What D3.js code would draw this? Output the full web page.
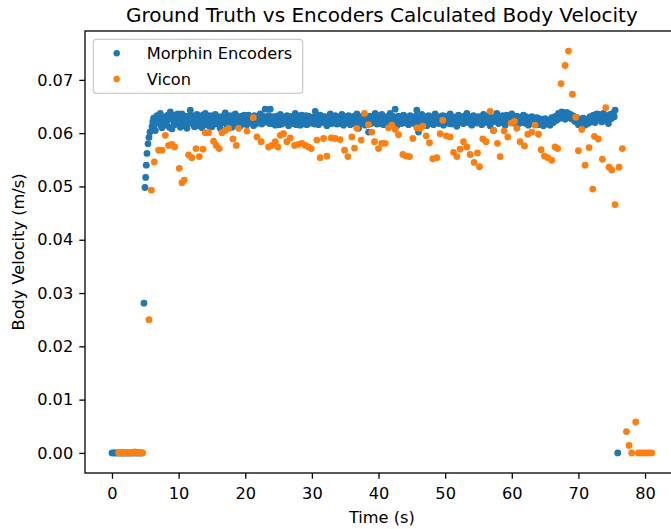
<!DOCTYPE html>
<html>
<head>
<meta charset="utf-8">
<script src="https://cdn.jsdelivr.net/npm/d3@7"></script>
<style>
  body { margin: 0; background: #ffffff; }
  svg { display: block; }
  text { font-family: "DejaVu Sans", sans-serif; fill: #000; }
</style>
</head>
<body>
<svg id="chart" width="671" height="529"></svg>
<script>
// Body velocity estimated from the wheel encoders (s, m/s)
const encoderTime = [
  0,0.25,0.5,0.75,1,1.25,1.5,1.75,2,2.25,2.5,2.75,3,3.25,3.5,3.75,4,4.25,4.5,
  4.8,4.95,5.05,5.15,5.25,5.4,5.55,5.7,
  6,6.125,6.25,6.375,6.5,6.625,6.75,6.875,
  7,7.125,7.25,7.375,7.5,7.625,7.75,7.875,
  8,8.125,8.25,8.375,8.5,8.625,8.75,8.875,
  9,9.125,9.25,9.375,9.5,9.625,9.75,9.875,
  10,10.125,10.25,10.375,10.5,10.625,10.75,10.875,
  11,11.125,11.25,11.375,11.5,11.625,11.75,11.875,
  12,12.125,12.25,12.375,12.5,12.625,12.75,12.875,
  13,13.125,13.25,13.375,13.5,13.625,13.75,13.875,
  14,14.125,14.25,14.375,14.5,14.625,14.75,14.875,
  15,15.125,15.25,15.375,15.5,15.625,15.75,15.875,
  16,16.125,16.25,16.375,16.5,16.625,16.75,16.875,
  17,17.125,17.25,17.375,17.5,17.625,17.75,17.875,
  18,18.125,18.25,18.375,18.5,18.625,18.75,18.875,
  19,19.125,19.25,19.375,19.5,19.625,19.75,19.875,
  20,20.125,20.25,20.375,20.5,20.625,20.75,20.875,
  21,21.125,21.25,21.375,21.5,21.625,21.75,21.875,
  22,22.125,22.25,22.375,22.5,22.625,22.75,22.875,
  23,23.125,23.25,23.375,23.5,23.625,23.75,23.875,
  24,24.125,24.25,24.375,24.5,24.625,24.75,24.875,
  25,25.125,25.25,25.375,25.5,25.625,25.75,25.875,
  26,26.125,26.25,26.375,26.5,26.625,26.75,26.875,
  27,27.125,27.25,27.375,27.5,27.625,27.75,27.875,
  28,28.125,28.25,28.375,28.5,28.625,28.75,28.875,
  29,29.125,29.25,29.375,29.5,29.625,29.75,29.875,
  30,30.125,30.25,30.375,30.5,30.625,30.75,30.875,
  31,31.125,31.25,31.375,31.5,31.625,31.75,31.875,
  32,32.125,32.25,32.375,32.5,32.625,32.75,32.875,
  33,33.125,33.25,33.375,33.5,33.625,33.75,33.875,
  34,34.125,34.25,34.375,34.5,34.625,34.75,34.875,
  35,35.125,35.25,35.375,35.5,35.625,35.75,35.875,
  36,36.125,36.25,36.375,36.5,36.625,36.75,36.875,
  37,37.125,37.25,37.375,37.5,37.625,37.75,37.875,
  38,38.125,38.25,38.375,38.5,38.625,38.75,38.875,
  39,39.125,39.25,39.375,39.5,39.625,39.75,39.875,
  40,40.125,40.25,40.375,40.5,40.625,40.75,40.875,
  41,41.125,41.25,41.375,41.5,41.625,41.75,41.875,
  42,42.125,42.25,42.375,42.5,42.625,42.75,42.875,
  43,43.125,43.25,43.375,43.5,43.625,43.75,43.875,
  44,44.125,44.25,44.375,44.5,44.625,44.75,44.875,
  45,45.125,45.25,45.375,45.5,45.625,45.75,45.875,
  46,46.125,46.25,46.375,46.5,46.625,46.75,46.875,
  47,47.125,47.25,47.375,47.5,47.625,47.75,47.875,
  48,48.125,48.25,48.375,48.5,48.625,48.75,48.875,
  49,49.125,49.25,49.375,49.5,49.625,49.75,49.875,
  50,50.125,50.25,50.375,50.5,50.625,50.75,50.875,
  51,51.125,51.25,51.375,51.5,51.625,51.75,51.875,
  52,52.125,52.25,52.375,52.5,52.625,52.75,52.875,
  53,53.125,53.25,53.375,53.5,53.625,53.75,53.875,
  54,54.125,54.25,54.375,54.5,54.625,54.75,54.875,
  55,55.125,55.25,55.375,55.5,55.625,55.75,55.875,
  56,56.125,56.25,56.375,56.5,56.625,56.75,56.875,
  57,57.125,57.25,57.375,57.5,57.625,57.75,57.875,
  58,58.125,58.25,58.375,58.5,58.625,58.75,58.875,
  59,59.125,59.25,59.375,59.5,59.625,59.75,59.875,
  60,60.125,60.25,60.375,60.5,60.625,60.75,60.875,
  61,61.125,61.25,61.375,61.5,61.625,61.75,61.875,
  62,62.125,62.25,62.375,62.5,62.625,62.75,62.875,
  63,63.125,63.25,63.375,63.5,63.625,63.75,63.875,
  64,64.125,64.25,64.375,64.5,64.625,64.75,64.875,
  65,65.125,65.25,65.375,65.5,65.625,65.75,65.875,
  66,66.125,66.25,66.375,66.5,66.625,66.75,66.875,
  67,67.125,67.25,67.375,67.5,67.625,67.75,67.875,
  68,68.125,68.25,68.375,68.5,68.625,68.75,68.875,
  69,69.125,69.25,69.375,69.5,69.625,69.75,69.875,
  70,70.125,70.25,70.375,70.5,70.625,70.75,70.875,
  71,71.125,71.25,71.375,71.5,71.625,71.75,71.875,
  72,72.125,72.25,72.375,72.5,72.625,72.75,72.875,
  73,73.125,73.25,73.375,73.5,73.625,73.75,73.875,
  74,74.125,74.25,74.375,74.5,74.625,74.75,74.875,
  75,75.125,75.25,75.375,75.5,
  75.9
];
const encoderVelocity = [
  0,0,0,0,0,0,0,0,0,0,0,0,0,0,0,0,0,0,0,
  .0281,.0498,.0517,.0540,.0562,.0580,.0592,.0602,
  .0612,.0621,.0628,.0616,.0605,.0626,.0633,.0624,
  .0620,.0630,.0637,.0614,.0610,.0629,.0624,.0618,
  .0631,.0622,.0615,.0634,.0626,.0611,.0640,.0627,
  .0608,.0630,.0622,.0616,.0634,.0625,.0617,.0636,
  .0629,.0619,.0611,.0627,.0636,.0614,.0620,.0632,
  .0625,.0617,.0609,.0628,.0632,.0621,.0643,.0624,
  .0618,.0633,.0627,.0612,.0613,.0629,.0635,.0620,
  .0622,.0614,.0630,.0624,.0610,.0634,.0626,.0619,
  .0637,.0625,.0616,.0630,.0624,.0613,.0633,.0621,
  .0612,.0626,.0628,.0617,.0635,.0623,.0619,.0631,
  .0626,.0615,.0609,.0629,.0631,.0620,.0622,.0634,
  .0638,.0624,.0615,.0630,.0627,.0618,.0633,.0622,
  .0611,.0628,.0624,.0616,.0636,.0626,.0618,.0631,
  .0629,.0620,.0613,.0627,.0632,.0617,.0621,.0634,
  .0626,.0619,.0616,.0630,.0634,.0624,.0622,.0628,
  .0629,.0620,.0614,.0633,.0631,.0618,.0624,.0627,
  .0619,.0629,.0636,.0623,.0617,.0632,.0627,.0621,
  .0645,.0626,.0621,.0630,.0633,.0618,.0645,.0625,
  .0618,.0631,.0628,.0620,.0615,.0627,.0632,.0622,
  .0623,.0616,.0635,.0626,.0617,.0630,.0629,.0620,
  .0620,.0627,.0633,.0619,.0614,.0631,.0626,.0622,
  .0631,.0624,.0618,.0629,.0637,.0616,.0622,.0633,
  .0628,.0620,.0615,.0630,.0634,.0625,.0621,.0617,
  .0627,.0633,.0616,.0622,.0632,.0619,.0624,.0629,
  .0619,.0626,.0630,.0617,.0641,.0628,.0623,.0632,
  .0616,.0625,.0634,.0621,.0626,.0631,.0620,.0628,
  .0631,.0622,.0614,.0627,.0628,.0619,.0636,.0624,
  .0618,.0630,.0625,.0621,.0633,.0626,.0617,.0629,
  .0629,.0618,.0622,.0632,.0635,.0624,.0615,.0627,
  .0627,.0631,.0620,.0625,.0633,.0621,.0616,.0628,
  .0630,.0619,.0624,.0632,.0618,.0627,.0636,.0622,
  .0609,.0625,.0628,.0617,.0621,.0631,.0634,.0623,
  .0615,.0629,.0627,.0620,.0602,.0626,.0632,.0618,
  .0619,.0630,.0625,.0621,.0637,.0627,.0617,.0633,
  .0629,.0618,.0622,.0631,.0635,.0624,.0616,.0628,
  .0626,.0620,.0631,.0623,.0619,.0630,.0637,.0625,
  .0623,.0632,.0628,.0619,.0645,.0627,.0614,.0630,
  .0632,.0621,.0625,.0629,.0618,.0626,.0634,.0620,
  .0621,.0630,.0627,.0618,.0616,.0628,.0633,.0624,
  .0624,.0619,.0630,.0626,.0617,.0632,.0643,.0622,
  .0602,.0625,.0628,.0621,.0635,.0629,.0619,.0631,
  .0626,.0620,.0614,.0627,.0633,.0618,.0622,.0630,
  .0629,.0624,.0616,.0632,.0636,.0620,.0623,.0627,
  .0618,.0628,.0631,.0621,.0625,.0633,.0615,.0626,
  .0632,.0624,.0621,.0629,.0627,.0618,.0636,.0623,
  .0617,.0631,.0629,.0620,.0624,.0630,.0613,.0626,
  .0634,.0625,.0622,.0628,.0630,.0619,.0618,.0632,
  .0626,.0621,.0637,.0624,.0620,.0631,.0628,.0617,
  .0615,.0627,.0633,.0622,.0625,.0630,.0619,.0628,
  .0631,.0620,.0623,.0629,.0616,.0626,.0635,.0622,
  .0627,.0632,.0620,.0625,.0633,.0619,.0614,.0628,
  .0629,.0621,.0605,.0626,.0624,.0631,.0637,.0623,
  .0618,.0627,.0630,.0620,.0622,.0633,.0626,.0619,
  .0615,.0629,.0634,.0624,.0621,.0632,.0628,.0625,
  .0636,.0626,.0619,.0630,.0627,.0622,.0632,.0620,
  .0617,.0625,.0630,.0621,.0624,.0629,.0634,.0619,
  .0620,.0631,.0628,.0618,.0615,.0627,.0626,.0622,
  .0631,.0624,.0618,.0628,.0623,.0616,.0629,.0621,
  .0616,.0627,.0625,.0619,.0621,.0626,.0614,.0623,
  .0627,.0620,.0617,.0624,.0622,.0618,.0615,.0626,
  .0629,.0622,.0620,.0630,.0631,.0625,.0624,.0633,
  .0637,.0630,.0628,.0635,.0640,.0631,.0633,.0638,
  .0626,.0634,.0639,.0629,.0630,.0636,.0635,.0628,
  .0627,.0633,.0632,.0624,.0622,.0630,.0629,.0620,
  .0616,.0623,.0626,.0619,.0620,.0627,.0628,.0617,
  .0615,.0622,.0624,.0618,.0619,.0628,.0631,.0621,
  .0623,.0630,.0634,.0625,.0620,.0632,.0636,.0627,
  .0627,.0635,.0632,.0624,.0621,.0630,.0637,.0628,
  .0625,.0633,.0630,.0622,.0618,.0631,.0635,.0627,
  .0628,.0634,.0638,.0631,.0643,
  0
];

// Ground-truth body velocity from the Vicon motion capture (s, m/s)
const viconTime = [
  1,1.3,1.6,1.9,2.2,2.5,2.8,3.1,3.4,3.7,4,4.3,4.6,
  5.55,5.9,6.35,7,7.5,8,8.5,9,9.4,10.1,10.5,10.85,11.5,12,12.6,13.1,13.65,14,14.5,
  15.25,15.65,16.1,16.5,17,17.5,18.15,18.65,19,20.25,21.2,21.75,22.4,23.5,24,24.5,24.9,
  25.25,25.75,26.25,26.75,27.4,28,28.5,29,29.5,29.9,30.75,31.25,31.75,32.25,32.9,33.5,34.25,34.9,
  35.4,36,36.4,36.75,37.4,37.9,38.5,39,39.4,40,40.5,41,41.5,42,42.5,43,43.65,44.15,44.65,
  45.15,45.75,46.25,46.65,47.15,47.65,48.15,48.75,49.25,49.65,50.15,50.75,51.25,51.75,52.25,52.75,
  53.25,53.75,54.35,54.85,55.15,55.65,56.15,56.75,57.25,57.85,58.25,58.85,59.4,59.9,60.4,60.75,
  61.25,61.9,62.4,63,63.5,64,64.4,64.9,65.4,66,66.5,66.9,67.4,68,68.5,69.1,69.6,70,70.5,71,71.6,
  72.15,72.4,73,73.6,74.1,74.6,75,75.5,76.1,76.6,
  77.2,77.6,78,78.6,79,79.4,79.8,80.2,80.6,81
];
const viconVelocity = [
  0,0,0,0,0,0,0,.0001,.0002,0,.0001,0,0,
  .0250,.0493,.0546,.0568,.0568,.0596,.0577,.0579,.0574,.0534,.0507,.0512,.0559,.0554,.0571,.0556,.0570,.0601,.0601,
  .0585,.0577,.0571,.0601,.0605,.0609,.0589,.0577,.0609,.0604,.0629,.0593,.0584,.0574,.0577,.0584,.0574,
  .0596,.0599,.0584,.0591,.0577,.0579,.0581,.0577,.0574,.0571,.0587,.0554,.0590,.0557,.0591,.0590,.0588,.0568,
  .0556,.0593,.0572,.0609,.0587,.0637,.0616,.0602,.0584,.0571,.0581,.0581,.0610,.0615,.0607,.0597,.0560,.0557,.0556,
  .0590,.0610,.0609,.0613,.0595,.0582,.0552,.0554,.0599,.0624,.0595,.0593,.0564,.0556,.0570,.0584,
  .0574,.0560,.0545,.0563,.0537,.0589,.0584,.0641,.0605,.0581,.0556,.0604,.0593,.0619,.0622,.0609,
  .0584,.0576,.0598,.0602,.0615,.0598,.0569,.0557,.0554,.0549,.0574,.0571,.0693,.0727,.0754,.0673,.0630,.0567,.0607,.0540,.0573,
  .0495,.0594,.0589,.0551,.0648,.0536,.0531,.0466,.0536,.0571,
  .0040,.0014,0,.0058,0,0,0,0,0,0
];

const seriesNames = ["Morphin Encoders", "Vicon"];
const xTickValues = [0, 10, 20, 30, 40, 50, 60, 70, 80];
const yTickValues = [0, 0.01, 0.02, 0.03, 0.04, 0.05, 0.06, 0.07];

const series = [
  { name: seriesNames[0], color: "#1f77b4", points: encoderTime.map((t, i) => [t, encoderVelocity[i]]) },
  { name: seriesNames[1], color: "#ff7f0e", points: viconTime.map((t, i) => [t, viconVelocity[i]]) }
];

const svg = d3.select("#chart");
const margin = { left: 85, top: 31 };
const plotW = 593.7, plotH = 442;
const fontSize = 16.2;
const tickLen = 5.7, lineW = 1.3;

// Autoscaled limits with a 5% margin on both axes
const allPts = series.flatMap(s => s.points);
const [xMin, xMax] = d3.extent(allPts, d => d[0]);
const [yMin, yMax] = d3.extent(allPts, d => d[1]);
const xPad = (xMax - xMin) * 0.05, yPad = (yMax - yMin) * 0.05;

const x = d3.scaleLinear().domain([xMin - xPad, xMax + xPad]).range([0, plotW]);
const y = d3.scaleLinear().domain([yMin - yPad, yMax + yPad]).range([plotH, 0]);

const g = svg.append("g").attr("transform", `translate(${margin.left},${margin.top})`);

// Scatter points, encoders first so the Vicon markers sit on top
series.forEach(s => {
  g.append("g").selectAll("circle").data(s.points).join("circle")
    .attr("cx", d => x(d[0]))
    .attr("cy", d => y(d[1]))
    .attr("r", 3.4)
    .attr("fill", s.color);
});

// Axes
const xAxis = g.append("g").attr("transform", `translate(0,${plotH})`)
  .call(d3.axisBottom(x).tickValues(xTickValues).tickFormat(d3.format("d")).tickSize(tickLen).tickPadding(tickLen));
const yAxis = g.append("g")
  .call(d3.axisLeft(y).tickValues(yTickValues).tickFormat(d3.format(".2f")).tickSize(tickLen).tickPadding(tickLen));

[xAxis, yAxis].forEach(a => {
  a.select(".domain").remove();
  a.selectAll(".tick line").attr("stroke", "#000").attr("stroke-width", lineW);
  a.selectAll(".tick text").attr("font-size", fontSize).attr("font-family", "DejaVu Sans").attr("fill", "#000");
});
xAxis.selectAll(".tick text").attr("dy", null).attr("y", 26);
yAxis.selectAll(".tick text").attr("x", -11.8);

// Axes frame
g.append("rect")
  .attr("x", 0).attr("y", 0).attr("width", plotW).attr("height", plotH)
  .attr("fill", "none").attr("stroke", "#000").attr("stroke-width", lineW);

// Title and axis labels
svg.append("text")
  .attr("x", margin.left + plotW / 2).attr("y", 22)
  .attr("text-anchor", "middle").attr("font-size", 20)
  .text("Ground Truth vs Encoders Calculated Body Velocity");

svg.append("text")
  .attr("x", margin.left + plotW / 2).attr("y", 523)
  .attr("text-anchor", "middle").attr("font-size", fontSize)
  .text("Time (s)");

svg.append("text")
  .attr("transform", `translate(24,${margin.top + plotH / 2}) rotate(-90)`)
  .attr("text-anchor", "middle").attr("font-size", fontSize)
  .text("Body Velocity (m/s)");

// Legend
const legend = svg.append("g").attr("transform", "translate(93.3,39.3)");
legend.append("rect")
  .attr("width", 209.4).attr("height", 54).attr("rx", 3)
  .attr("fill", "#fff").attr("fill-opacity", 0.8)
  .attr("stroke", "#cccccc").attr("stroke-width", lineW);
series.forEach((s, i) => {
  const row = legend.append("g").attr("transform", `translate(0,${14 + i * 25.7})`);
  row.append("circle").attr("cx", 23.4).attr("cy", 0).attr("r", 3.2).attr("fill", s.color);
  row.append("text").attr("x", 53.4).attr("y", 0).attr("dy", "0.35em")
    .attr("font-size", fontSize).text(s.name);
});
</script>
</body>
</html>
